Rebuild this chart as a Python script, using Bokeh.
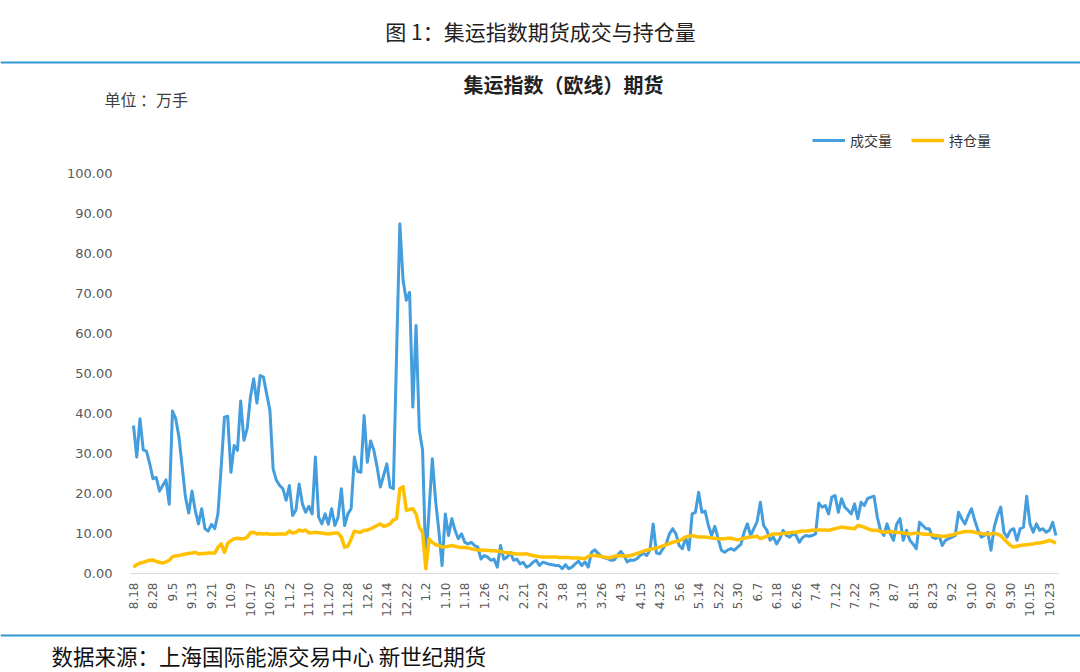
import math
from bokeh.plotting import figure
from bokeh.models import (Range1d, Label, Span, Legend, LegendItem, ColumnDataSource)
from bokeh.embed import file_html
from bokeh.resources import INLINE

# ---------------- data ----------------
tick_labels = ["8.18", "8.28", "9.5", "9.13", "9.21", "10.9", "10.17", "10.25", "11.2", "11.10",
               "11.20", "11.28", "12.6", "12.14", "12.22", "1.2", "1.10", "1.18", "1.26", "2.5",
               "2.21", "2.29", "3.8", "3.18", "3.26", "4.3", "4.15", "4.23", "5.6", "5.14",
               "5.22", "5.30", "6.7", "6.18", "6.26", "7.4", "7.12", "7.22", "7.30", "8.7",
               "8.15", "8.23", "9.2", "9.10", "9.20", "9.30", "10.15", "10.23"]
tick_step = 6  # one label every 6 trading days
y_ticks = [0, 10, 20, 30, 40, 50, 60, 70, 80, 90, 100]

# 成交量 (万手), one value per trading day
volume = [
    37.0, 29.1, 38.7, 30.9, 30.6, 27.4, 23.7, 24.0, 20.6, 22.0,
    23.4, 17.3, 40.6, 38.7, 34.1, 26.6, 19.1, 15.1, 20.6, 15.8,
    12.4, 16.2, 11.2, 10.6, 12.3, 11.2, 14.9, 26.6, 39.1, 39.3,
    25.3, 32.0, 30.8, 43.1, 33.3, 36.2, 44.1, 48.7, 42.6, 49.5,
    49.1, 44.9, 40.8, 26.1, 23.3, 22.0, 21.2, 18.3, 22.0, 14.5,
    15.8, 22.4, 17.4, 15.3, 16.8, 14.9, 29.1, 14.1, 12.4, 14.9,
    12.3, 16.2, 12.0, 14.1, 21.2, 12.0, 14.9, 16.2, 29.1, 25.5,
    25.3, 39.5, 27.8, 33.1, 30.8, 26.6, 21.6, 24.5, 27.4, 21.6,
    21.2, 55.0, 87.4, 73.3, 68.3, 70.3, 41.6, 62.0, 35.8, 30.8,
    2.4, 15.8, 28.7, 18.3, 10.8, 2.0, 14.9, 9.5, 13.7, 10.8,
    8.7, 9.9, 7.8, 7.4, 7.8, 7.0, 6.6, 3.6, 4.5, 4.1,
    3.3, 3.6, 1.6, 7.0, 3.6, 4.1, 5.3, 3.3, 3.6, 2.4,
    2.8, 1.6, 2.0, 2.8, 3.3, 2.0, 2.8, 2.6, 2.3, 2.2,
    2.0, 2.0, 1.2, 2.2, 1.2, 1.6, 2.4, 3.1, 2.0, 2.9,
    1.6, 5.3, 5.9, 5.1, 4.3, 3.9, 3.7, 3.3, 3.4, 4.5,
    5.5, 4.5, 2.9, 3.4, 3.3, 3.7, 4.5, 5.1, 4.5, 5.8,
    12.4, 5.1, 4.9, 6.2, 7.4, 9.9, 11.2, 9.9, 7.0, 6.2,
    9.1, 5.9, 14.9, 15.3, 20.3, 15.3, 15.6, 12.0, 9.5, 11.8,
    8.7, 5.8, 5.3, 5.9, 6.2, 5.8, 6.6, 7.3, 10.3, 12.4,
    9.5, 11.2, 13.0, 17.8, 12.0, 10.8, 8.3, 9.1, 7.4, 8.7,
    10.8, 9.5, 9.1, 9.9, 9.5, 7.8, 9.0, 9.5, 9.3, 9.5,
    9.9, 17.6, 16.6, 17.0, 14.9, 19.1, 19.5, 15.3, 18.7, 16.6,
    15.8, 14.9, 17.4, 13.7, 17.8, 17.0, 18.7, 19.1, 19.3, 14.1,
    10.8, 9.5, 12.4, 10.0, 8.3, 12.4, 13.7, 8.3, 10.8, 8.3,
    7.4, 6.2, 12.8, 12.0, 11.2, 11.2, 9.1, 8.7, 9.5, 7.0,
    8.3, 8.7, 9.1, 9.5, 15.3, 13.7, 12.4, 14.5, 16.2, 13.3,
    10.8, 9.1, 9.5, 10.3, 5.8, 11.6, 14.5, 16.6, 10.3, 9.1,
    10.8, 11.2, 8.3, 11.2, 11.6, 19.3, 12.4, 10.3, 12.4, 10.8,
    11.2, 10.3, 10.8, 12.8, 9.5,
]

# 持仓量 (万手)
open_interest = [
    1.6, 2.2, 2.6, 2.8, 3.1, 3.3, 3.4, 3.0, 2.8, 2.6,
    2.9, 3.3, 4.2, 4.4, 4.5, 4.7, 4.9, 5.0, 5.1, 5.3,
    4.9, 5.0, 5.0, 5.1, 5.1, 5.1, 6.5, 7.4, 5.3, 7.6,
    8.2, 8.7, 8.8, 8.7, 8.7, 9.1, 10.2, 10.3, 9.9, 10.0,
    9.9, 10.0, 9.8, 9.8, 9.9, 9.9, 9.9, 9.9, 10.6, 10.1,
    10.3, 10.9, 10.6, 10.9, 10.1, 10.2, 10.3, 10.2, 10.1, 10.0,
    9.9, 10.0, 10.1, 10.1, 9.1, 6.6, 6.8, 8.6, 10.6, 10.4,
    10.3, 10.8, 10.8, 11.2, 11.6, 12.0, 12.4, 11.8, 12.0, 12.4,
    13.4, 13.7, 21.2, 21.7, 15.8, 16.0, 16.2, 14.9, 11.6, 10.3,
    1.2, 8.7, 7.8, 7.2, 7.0, 6.6, 6.7, 6.8, 7.0, 6.8,
    6.6, 6.5, 6.5, 6.4, 6.2, 6.0, 5.9, 5.9, 5.8, 5.8,
    5.7, 5.7, 5.6, 5.5, 5.3, 5.2, 5.1, 5.0, 4.9, 4.9,
    4.9, 4.9, 4.7, 4.5, 4.3, 4.2, 4.1, 4.1, 4.1, 4.1,
    4.1, 4.0, 4.0, 4.0, 4.0, 3.9, 3.9, 3.9, 3.8, 3.7,
    4.3, 4.5, 4.5, 4.4, 4.3, 4.1, 3.9, 4.0, 4.3, 4.4,
    4.5, 4.4, 4.3, 4.5, 4.7, 5.0, 5.3, 5.6, 5.8, 6.0,
    6.2, 6.4, 6.6, 6.9, 7.2, 7.5, 7.8, 8.0, 8.2, 8.6,
    9.1, 9.3, 9.5, 9.3, 9.1, 9.1, 9.1, 9.0, 8.9, 8.8,
    8.7, 8.7, 8.7, 8.8, 8.8, 8.6, 8.4, 8.6, 8.8, 9.0,
    9.1, 9.2, 9.3, 8.7, 9.0, 9.3, 9.6, 9.9, 9.9, 9.9,
    10.0, 10.1, 10.2, 10.3, 10.3, 10.5, 10.6, 10.6, 10.7, 10.8,
    10.9, 10.9, 10.9, 10.9, 10.8, 11.0, 11.2, 11.4, 11.6, 11.5,
    11.4, 11.3, 11.2, 12.0, 11.8, 11.6, 11.2, 10.9, 10.8, 10.8,
    10.5, 10.3, 10.4, 10.5, 10.4, 10.3, 10.2, 10.1, 10.0, 9.9,
    10.0, 10.1, 10.0, 9.9, 9.8, 9.8, 9.6, 9.5, 9.4, 9.3,
    9.3, 9.5, 9.6, 9.9, 10.1, 10.3, 10.5, 10.5, 10.5, 10.3,
    10.1, 10.0, 9.9, 9.9, 9.9, 10.1, 9.8, 9.5, 8.6, 7.8,
    7.0, 6.6, 6.8, 7.0, 7.1, 7.2, 7.3, 7.4, 7.6, 7.6,
    7.8, 8.0, 8.3, 8.0, 7.6,
]

# ---------------- layout / styling ----------------
BLUE = "#449ddd"
GOLD = "#ffc000"
RULE = "#2f97d4"
AXIS_TEXT = "#595959"
CJK = "Noto Sans CJK SC"
W, H = 1080, 672

# plot geometry in page pixels: first trading day at x0, px per day, zero line, px per unit
X0, DX, Y0, DY = 133.0, 3.248, 573.0, 4.0


def dx(px):  # page x -> data x
    return (px - X0) / DX


def dy(py):  # page y -> data y
    return (Y0 - py) / DY


n = len(volume)
src = ColumnDataSource(dict(i=list(range(n)), volume=volume, oi=open_interest))

p = figure(width=W, height=H, toolbar_location=None, output_backend="svg",
           x_range=Range1d(dx(0), dx(W)), y_range=Range1d(dy(H), dy(0)),
           x_axis_type=None, y_axis_type=None,
           min_border_left=0, min_border_right=0, min_border_top=0, min_border_bottom=0)
p.outline_line_color = None
p.background_fill_color = "white"
p.border_fill_color = "white"

# baseline of the value axis
pad = 3.0 / DX
p.line(x=[-pad, n - 1 + pad], y=[0, 0], line_color="#d9d9d9", line_width=1)

r_vol = p.line("i", "volume", source=src, line_color=BLUE, line_width=3, line_join="round")
r_oi = p.line("i", "oi", source=src, line_color=GOLD, line_width=3.5, line_join="round")

# y tick labels (value axis)
p.text(x=[dx(112)] * len(y_ticks), y=y_ticks, text=["%.2f" % t for t in y_ticks],
       text_align="right", text_baseline="middle", text_font={"value": "DejaVu Sans"},
       text_font_size={"value": "13px"}, text_color=AXIS_TEXT)

# x tick labels (category axis), rotated
x_ticks = [k * tick_step for k in range(len(tick_labels))]
p.text(x=x_ticks, y=[dy(582)] * len(x_ticks), text=tick_labels, angle=math.pi / 2,
       text_align="right", text_baseline="middle", text_font={"value": "DejaVu Sans"},
       text_font_size={"value": "12px"}, text_color=AXIS_TEXT)

# page title and rules
p.add_layout(Label(x=dx(540), y=dy(30), text="图 1：集运指数期货成交与持仓量", text_align="center",
                   text_baseline="middle", text_font=CJK, text_font_size="21px",
                   text_color="#222222"))
p.add_layout(Span(location=dy(62), dimension="width", line_color=RULE, line_width=2))
p.add_layout(Span(location=dy(635), dimension="width", line_color=RULE, line_width=2))
p.add_layout(Label(x=dx(51), y=dy(655), text="数据来源：上海国际能源交易中心 新世纪期货",
                   text_align="left", text_baseline="middle", text_font=CJK,
                   text_font_size="21.5px", text_color="#111111"))

# chart title and unit
p.add_layout(Label(x=dx(563), y=dy(84), text="集运指数（欧线）期货", text_align="center",
                   text_baseline="middle", text_font=CJK, text_font_size="20px",
                   text_font_style="bold", text_color="#222222"))
p.add_layout(Label(x=dx(104), y=dy(98), text="单位 ：万手", text_align="left",
                   text_baseline="middle", text_font=CJK, text_font_size="16px",
                   text_color="#404040"))

legend = Legend(items=[LegendItem(label="成交量", renderers=[r_vol]),
                       LegendItem(label="持仓量", renderers=[r_oi])],
                orientation="horizontal", location=(812, H - 150), glyph_width=33,
                glyph_height=20, label_standoff=5, spacing=19, padding=0, margin=0,
                border_line_color=None, background_fill_alpha=0, label_text_font=CJK,
                label_text_font_size="14px", label_text_color="#333333", label_height=20)
p.add_layout(legend)

open("out.html", "w").write(file_html(p, INLINE))
